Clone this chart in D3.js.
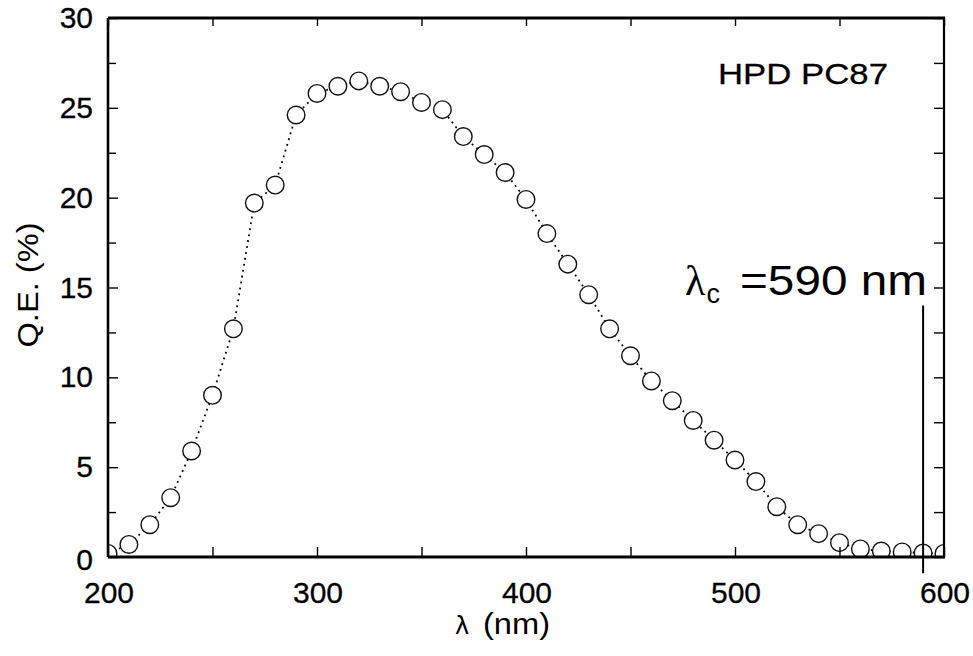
<!DOCTYPE html>
<html>
<head>
<meta charset="utf-8">
<script src="https://cdn.jsdelivr.net/npm/d3@7"></script>
<style>
  html, body { margin: 0; padding: 0; background: #fff; }
  svg { display: block; }
  text { font-family: "Liberation Sans", Arial, Helvetica, sans-serif; fill: #000; }
</style>
</head>
<body>
<svg id="chart" width="973" height="656"></svg>
<script>
// ---- data ----
const wavelengths = [200, 210, 220, 230, 240, 250, 260, 270, 280, 290,
                     300, 310, 320, 330, 340, 350, 360, 370, 380, 390,
                     400, 410, 420, 430, 440, 450, 460, 470, 480, 490,
                     500, 510, 520, 530, 540, 550, 560, 570, 580, 590, 600];
const qe = [0.2, 0.7, 1.8, 3.3, 5.9, 9.0, 12.7, 19.7, 20.7, 24.6,
            25.8, 26.2, 26.5, 26.2, 25.9, 25.3, 24.9, 23.4, 22.4, 21.4,
            19.9, 18.0, 16.3, 14.6, 12.7, 11.2, 9.8, 8.7, 7.6, 6.5,
            5.4, 4.2, 2.8, 1.8, 1.3, 0.8, 0.45, 0.33, 0.28, 0.22, 0.2];
const xTickValues = [200, 300, 400, 500, 600];
const xMinorTicks = [250, 350, 450, 550];
const yTickValues = [0, 5, 10, 15, 20, 25, 30];
const yMinorTicks = [2.5, 7.5, 12.5, 17.5, 22.5, 27.5];
const cutoffWavelength = 590;
const cutoffLineRange = [14, -0.9];
const labelText = "HPD PC87";
const xLabel = "(nm)";
const yLabel = "Q.E.  (%)";

// ---- layout ----
const L = 108, R = 944, T = 18, B = 557;
const svg = d3.select("#chart");
const x = d3.scaleLinear().domain([200, 600]).range([L, R]);
const y = d3.scaleLinear().domain([0, 30]).range([B, T]);

svg.append("rect").attr("width", 973).attr("height", 656).attr("fill", "#fff");

svg.append("defs").append("clipPath").attr("id", "plotclip")
  .append("rect").attr("x", L).attr("y", T).attr("width", R - L).attr("height", B - T);

const plot = svg.append("g").attr("clip-path", "url(#plotclip)");
const pts = wavelengths.map((w, i) => ({ w, v: qe[i] }));

// dotted connecting line
plot.append("path")
  .datum(pts)
  .attr("fill", "none")
  .attr("stroke", "#000")
  .attr("stroke-width", 1.8)
  .attr("stroke-dasharray", "1.8,4.2")
  .attr("d", d3.line().x(d => x(d.w)).y(d => y(d.v)));

// markers
plot.selectAll("circle.pt")
  .data(pts)
  .join("circle")
  .attr("class", "pt")
  .attr("cx", d => x(d.w))
  .attr("cy", d => y(d.v))
  .attr("r", 8.8)
  .attr("fill", "#fff")
  .attr("stroke", "#111")
  .attr("stroke-width", 1.4);

// ---- axes (frame + inward ticks) ----
const tickLen = 10, minorLen = 8;
const axB = svg.append("g").attr("transform", `translate(0,${B})`)
  .call(d3.axisBottom(x).tickValues(xTickValues.concat(xMinorTicks)).tickSize(-tickLen).tickFormat(""));
const axT = svg.append("g").attr("transform", `translate(0,${T})`)
  .call(d3.axisTop(x).tickValues(xTickValues.concat(xMinorTicks)).tickSize(-minorLen).tickFormat(""));
const axLf = svg.append("g").attr("transform", `translate(${L},0)`)
  .call(d3.axisLeft(y).tickValues(yTickValues).tickSize(-tickLen).tickFormat(""));
const axLm = svg.append("g").attr("transform", `translate(${L},0)`)
  .call(d3.axisLeft(y).tickValues(yMinorTicks).tickSize(-minorLen).tickFormat(""));
const axRt = svg.append("g").attr("transform", `translate(${R},0)`)
  .call(d3.axisRight(y).tickValues(yTickValues.concat(yMinorTicks)).tickSize(-tickLen).tickFormat(""));
[axB, axT, axLf, axLm, axRt].forEach(g => {
  g.select(".domain").remove();
  g.selectAll(".tick line").attr("stroke", "#000").attr("stroke-width", 1.4);
});

// frame
svg.append("line").attr("x1", L).attr("x2", R + 1).attr("y1", T).attr("y2", T).attr("stroke", "#000").attr("stroke-width", 3);
svg.append("line").attr("x1", L).attr("x2", R + 1).attr("y1", B).attr("y2", B).attr("stroke", "#000").attr("stroke-width", 3.2);
svg.append("line").attr("x1", L).attr("x2", L).attr("y1", T).attr("y2", B).attr("stroke", "#000").attr("stroke-width", 2.6);
svg.append("line").attr("x1", R).attr("x2", R).attr("y1", T).attr("y2", B).attr("stroke", "#000").attr("stroke-width", 2.2);

// tick labels
svg.append("g").selectAll("text")
  .data(yTickValues)
  .join("text")
  .attr("x", L - 15)
  .attr("y", d => y(d) + 10 + (d === 0 ? 3 : 0))
  .attr("text-anchor", "end")
  .attr("font-size", 30)
  .attr("stroke", "#000").attr("stroke-width", 0.3)
  .text(d => d);

svg.append("g").selectAll("text")
  .data(xTickValues)
  .join("text")
  .attr("x", d => x(d) + 1)
  .attr("y", 603)
  .attr("text-anchor", "middle")
  .attr("font-size", 30)
  .attr("stroke", "#000").attr("stroke-width", 0.3)
  .text(d => d);

// axis titles
svg.append("text")
  .attr("transform", "translate(38,285) rotate(-90)")
  .attr("text-anchor", "middle")
  .attr("font-size", 29)
  .attr("textLength", 125)
  .attr("lengthAdjust", "spacingAndGlyphs")
  .text(yLabel);

const xl = svg.append("text").attr("y", 634).attr("font-size", 30);
xl.append("tspan").attr("x", 455).attr("font-family", "DejaVu Sans, sans-serif").attr("font-size", 24).text("λ");
xl.append("tspan").attr("x", 483).attr("textLength", 67).attr("lengthAdjust", "spacingAndGlyphs").text(xLabel);

// in-plot label
svg.append("text")
  .attr("x", 718)
  .attr("y", 84)
  .attr("font-size", 30)
  .attr("textLength", 170)
  .attr("lengthAdjust", "spacingAndGlyphs")
  .attr("stroke", "#000").attr("stroke-width", 0.3)
  .text(labelText);

// cutoff annotation
const ann = svg.append("text").attr("x", 685).attr("y", 295).attr("font-size", 42);
ann.append("tspan").attr("font-family", "Liberation Serif, Times New Roman, serif").attr("font-size", 42).text("λ");
ann.append("tspan").attr("font-size", 27).attr("dy", 8).attr("dx", 1).text("c");
ann.append("tspan").attr("dy", -8).attr("x", 740).attr("textLength", 187).attr("lengthAdjust", "spacingAndGlyphs").text("=590 nm");

svg.append("line")
  .attr("x1", x(cutoffWavelength)).attr("x2", x(cutoffWavelength))
  .attr("y1", y(cutoffLineRange[0])).attr("y2", y(cutoffLineRange[1]))
  .attr("stroke", "#000").attr("stroke-width", 2);
</script>
</body>
</html>
